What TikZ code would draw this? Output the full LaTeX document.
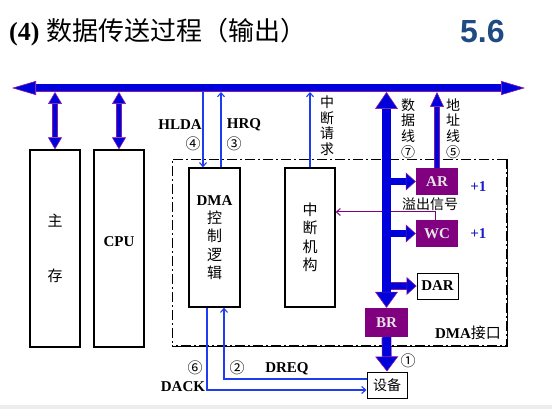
\documentclass[tikz,border=0pt]{standalone}
\usepackage{fontspec}
\setmainfont{Liberation Serif}
\newfontfamily\cjk{Noto Sans CJK SC}
\newfontfamily\numsans{Liberation Sans}
\usepackage{tikz}
\usetikzlibrary{arrows.meta, positioning, calc}
\usepackage{xcolor}
\definecolor{busblue}{HTML}{0000DD}
\definecolor{edgepurple}{HTML}{8B1A9B}
\definecolor{regpurple}{HTML}{800080}
\definecolor{sigblue}{HTML}{1E3CF0}
\definecolor{incblue}{HTML}{1C1CC8}
\definecolor{numgray}{HTML}{1F4A82}

\begin{document}
\begin{tikzpicture}[x=1pt, y=-1pt,
    box/.style={draw=black, line width=1.3pt, fill=white, inner sep=0pt},
    reg/.style={fill=regpurple, text=white!90!black, inner sep=0pt,
      font=\bfseries\fontsize{15}{18}\selectfont, minimum width=42pt, minimum height=27pt},
    lbl/.style={font=\bfseries\fontsize{15}{18}\selectfont, inner sep=1pt},
    zh/.style={font=\cjk\fontsize{14}{15.5}\selectfont, inner sep=1pt, align=center},
    sig/.style={draw=sigblue, line width=1.1pt, -{Straight Barb[length=4pt,width=7pt]}},
    ovf/.style={draw=regpurple, line width=1pt, -{Straight Barb[length=4pt,width=7pt]}},
    fat/.style={draw=edgepurple, line width=0.6pt, double=busblue, double distance=#1},
    ifline/.style={line width=0.9pt, dash pattern=on 10pt off 3pt on 2pt off 3pt}]
\useasboundingbox (0,0) rectangle (552,409);
\fill[black!7] (0,405) rectangle (552,409);

% title
\node[anchor=west, inner sep=0pt, font=\bfseries\fontsize{26}{30}\selectfont] (title) at (9,32)
  {(4) {\cjk\mdseries 数据传送过程（输出）}};
\node[anchor=west, inner sep=0pt, text=numgray, font=\numsans\bfseries\fontsize{32}{36}\selectfont] (secno) at (460,31) {5.6};

% DMA interface frame
\node[draw, ifline, inner sep=0pt, minimum width=335pt, minimum height=187pt] (dmaif) at (339.5,252.5) {};
\draw[ifline, line width=2pt] (dmaif.north east) -- (dmaif.south east) -- (dmaif.south west);
\node[lbl] (ifname) at (468,333) {DMA{\cjk\mdseries 接口}};

% units
\node[box, minimum width=50pt, minimum height=197pt, align=center,
  font=\cjk\fontsize{15}{55}\selectfont] (mem) at (55,248.5) {主\\存};
\node[box, minimum width=50pt, minimum height=197pt] (cpu) at (119,248.5) {};
\node[lbl] (cputxt) at ([yshift=7pt]cpu.center) {CPU};
\node[box, minimum width=51pt, minimum height=139pt, align=center,
  font=\cjk\fontsize{15}{18.3}\selectfont] (dma) at (214.5,237.5)
  {{\rmfamily\bfseries DMA}\\控\\制\\逻\\辑};
\node[box, minimum width=50pt, minimum height=139pt, align=center,
  font=\cjk\fontsize{15}{18.5}\selectfont] (intr) at (310,237.5) {中\\断\\机\\构};

% registers
\node[reg] (ar) at (437,181.5) {AR};
\node[reg] (wc) at (437,233.5) {WC};
\node[box, line width=0.9pt, minimum width=41pt, minimum height=26pt,
  font=\bfseries\fontsize{15}{18}\selectfont] (dar) at (437.5,286) {DAR};
\node[reg, minimum width=43pt, minimum height=29pt] (br) at (386.5,322.5) {BR};
\node[box, line width=1pt, minimum width=40pt, minimum height=26pt,
  font=\cjk\fontsize{14}{16}\selectfont] (dev) at (387,385) {设备};
\node[lbl, text=incblue, right=11pt of ar, yshift=-5pt] (arinc) {+1};
\node[lbl, text=incblue, right=11pt of wc] (wcinc) {+1};
\node[zh] (ovftxt) at (430,204) {溢出信号};

% bus reference points
\coordinate (busL) at (12,88);
\coordinate (busR) at (525,88);
\coordinate (busB) at (0,92);

% control signals
\coordinate (hldaP) at ([xshift=-11.5pt]dma.north);
\coordinate (hrqP) at ([xshift=6.5pt]dma.north);
\coordinate (dackP) at ([xshift=-7.5pt]dma.south);
\coordinate (dreqP) at ([xshift=9.5pt]dma.south);
\coordinate (ovfP) at ([xshift=-2pt]wc.north);
\draw[sig] (hldaP |- busB) -- (hldaP);
\draw[sig] (hrqP) -- (hrqP |- busB);
\draw[sig] (intr.north) -- (intr.north |- busB);
\draw[sig] (dackP) |- ([yshift=-5pt]dev.west);
\draw[sig] ([yshift=6pt]dev.west) -| (dreqP);
\draw[ovf] (ovfP) |- ([yshift=25.5pt]intr.east);

\node[lbl] (hlda) at (180,125) {HLDA};
\node[zh, font=\cjk\fontsize{15}{16}\selectfont] (n4) at (193,144) {④};
\node[lbl] (hrq) at (244,125) {HRQ};
\node[zh, font=\cjk\fontsize{15}{16}\selectfont] (n3) at (234,144) {③};
\node[zh] (irqtxt) at (327,125.5) {中\\断\\请\\求};
\node[zh, font=\cjk\fontsize{14}{15.7}\selectfont] (dtxt) at (408,128.5) {数\\据\\线\\⑦};
\node[zh, font=\cjk\fontsize{14}{15.7}\selectfont] (atxt) at (453,128.5) {地\\址\\线\\⑤};
\node[zh, font=\cjk\fontsize{15}{16}\selectfont] (n6) at (195,368) {⑥};
\node[lbl] (dack) at (183,387) {DACK};
\node[zh, font=\cjk\fontsize{15}{16}\selectfont] (n2) at (237,368) {②};
\node[lbl] (dreq) at (287,369) {DREQ};
\node[zh, font=\cjk\fontsize{15}{16}\selectfont] (n1) at (408,361) {①};

% wide data paths
\foreach \r in {ar,wc,dar}
  \draw[fat=6.5pt, -{Triangle[length=10pt,width=18pt,fill=busblue,line width=0.6pt]}] (\r.west -| br.north) -- (\r.west);
\draw[fat=4.5pt, -{Triangle[length=15pt,width=14pt,fill=busblue,line width=0.6pt]}] (ar.north) -- (ar.north |- busB);
\draw[fat=8.5pt, {Triangle[length=17pt,width=23pt,fill=busblue,line width=0.6pt]}-{Triangle[length=16pt,width=23pt,fill=busblue,line width=0.6pt]}]
  (br.north |- busB) -- (br.north);
\draw[fat=8.5pt, -{Triangle[length=15pt,width=23pt,fill=busblue,line width=0.6pt]}] (br.south) -- (dev.north);
\draw[fat=4pt, {Triangle[length=12pt,width=14pt,fill=busblue,line width=0.6pt]}-{Triangle[length=12pt,width=14pt,fill=busblue,line width=0.6pt]}]
  (mem.north |- busB) -- (mem.north);
\draw[fat=4pt, {Triangle[length=12pt,width=14pt,fill=busblue,line width=0.6pt]}-{Triangle[length=12pt,width=14pt,fill=busblue,line width=0.6pt]}]
  (cpu.north |- busB) -- (cpu.north);

% system bus
\draw[fat=7pt, {Triangle[length=24pt,width=14pt,fill=busblue,line width=0.6pt]}-{Triangle[length=24pt,width=14pt,fill=busblue,line width=0.6pt]}] (busL) -- (busR);
\end{tikzpicture}
\end{document}
